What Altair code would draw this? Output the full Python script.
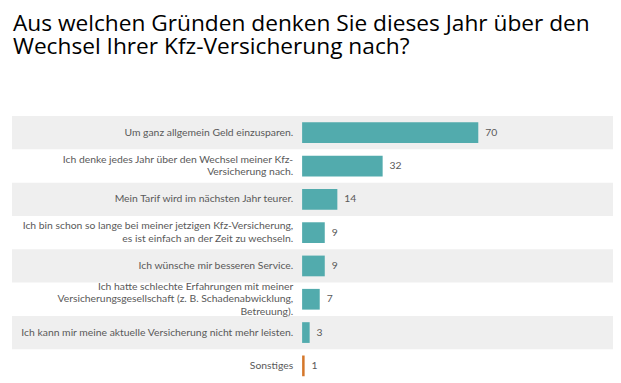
import altair as alt
import pandas as pd

labels = [
    ["Um ganz allgemein Geld einzusparen."],
    ["Ich denke jedes Jahr über den Wechsel meiner Kfz-", "Versicherung nach."],
    ["Mein Tarif wird im nächsten Jahr teurer."],
    ["Ich bin schon so lange bei meiner jetzigen Kfz-Versicherung,", "es ist einfach an der Zeit zu wechseln."],
    ["Ich wünsche mir besseren Service."],
    ["Ich hatte schlechte Erfahrungen mit meiner", "Versicherungsgesellschaft (z. B. Schadenabwicklung,", "Betreuung)."],
    ["Ich kann mir meine aktuelle Versicherung nicht mehr leisten."],
    ["Sonstiges"],
]
values = [70, 32, 14, 9, 9, 7, 3, 1]
title_lines = [
    "Aus welchen Gründen denken Sie dieses Jahr über den",
    "Wechsel Ihrer Kfz-Versicherung nach?",
]

N = len(values)
W = 609
ROWS_H = 270
STEP = ROWS_H / N
LINE_H = 12.5
FONT = "Lato"
TXT = "#595959"
FS = 10.5

df = pd.DataFrame({"idx": list(range(N)), "value": values})
df["stripe"] = df["idx"] % 2 == 0
df["other"] = [lines[0] == "Sonstiges" for lines in labels]

line_rows = []
for i, lines in enumerate(labels):
    n = len(lines)
    for j, t in enumerate(lines):
        line_rows.append({"idx": i, "line": t, "off": STEP / 2 + (j - (n - 1) / 2) * LINE_H})
ldf = pd.DataFrame(line_rows)

y_enc = alt.Y(
    "idx:O",
    scale=alt.Scale(domain=list(range(N)), range=[0, ROWS_H], paddingInner=0, paddingOuter=0),
    axis=None,
)
x_enc = alt.X("value:Q", scale=alt.Scale(domain=[0, 100], range=[294, 549]), axis=None)

base = alt.Chart(df)

stripes = base.transform_filter("datum.stripe").mark_rect(color="#EFEFEF").encode(
    y=y_enc, x=alt.value(0), x2=alt.value(W)
)

bars = base.mark_bar(size=21).encode(
    y=y_enc,
    x=x_enc,
    color=alt.condition("datum.other", alt.value("#D5772A"), alt.value("#52ABAD")),
)

vals = base.mark_text(align="left", baseline="middle", dx=7, fontSize=FS, font=FONT, color=TXT).encode(
    y=y_enc, x=x_enc, text="value:Q"
)

cats = alt.Chart(ldf).mark_text(
    align="right", baseline="middle", fontSize=FS, font=FONT, color=TXT
).encode(
    y=y_enc,
    yOffset=alt.YOffset("off:Q", scale=None),
    x=alt.value(285),
    text="line:N",
)

chart = (
    alt.layer(stripes, bars, vals, cats)
    .properties(
        width=W,
        height=268,
        autosize=alt.AutoSizeParams(type="none"),
        padding={"left": 4, "top": 107, "right": 0, "bottom": 0},
        title=alt.TitleParams(
            title_lines,
            anchor="start",
            frame="group",
            fontSize=23,
            font="Open Sans",
            fontWeight="normal",
            color="black",
            lineHeight=23,
            offset=58,
            dx=1,
        ),
        background="white",
    )
    .configure_view(stroke=None)
)

chart.save("out.html", embed_options={"renderer": "svg", "actions": False})
